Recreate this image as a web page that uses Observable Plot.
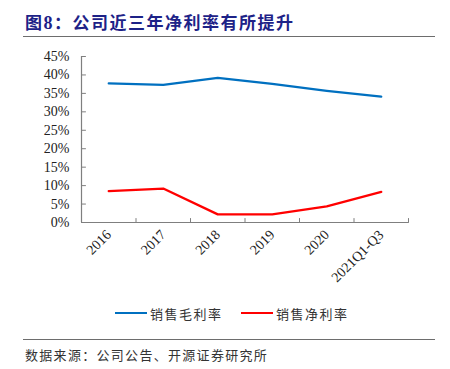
<!DOCTYPE html>
<html><head><meta charset="utf-8">
<script src="https://cdn.jsdelivr.net/npm/d3@7"></script>
<script src="https://cdn.jsdelivr.net/npm/@observablehq/plot@0.6"></script>
<style>
body{margin:0;width:450px;height:369px;background:#fff;position:relative;overflow:hidden;font-family:"Noto Sans CJK SC",sans-serif}
#title{position:absolute;left:25px;top:9px;font-size:17px;font-weight:bold;color:#1d2287;letter-spacing:1.5px;white-space:nowrap}
#title .num{font-family:"Liberation Serif",serif;font-size:18px}
.hr{position:absolute;left:23px;width:412px;height:0;border-top:1.5px solid #6d6d6d}
#chart{position:absolute;left:0;top:40px}
#legend{position:absolute;top:304px;left:0;width:450px;font-size:13px;color:#333;letter-spacing:1.5px}
.item{position:absolute;top:0;display:flex;align-items:center;height:18px;white-space:nowrap}
.sw{display:inline-block;width:32px;height:0;border-top:2.5px solid;margin-right:3px}
#source{position:absolute;left:25px;top:345px;font-size:13px;color:#333;letter-spacing:1.3px;white-space:nowrap}
</style></head><body>
<div id="title">图<span class="num">8</span>：公司近三年净利率有所提升</div>
<div class="hr" style="top:36px"></div>
<div id="chart"></div>
<div id="legend"></div>
<div class="hr" style="top:339px"></div>
<div id="source">数据来源：公司公告、开源证券研究所</div>
<script>
const categories = ["2016","2017","2018","2019","2020","2021Q1-Q3"];
const grossMargin = [37.7, 37.3, 39.2, 37.6, 35.7, 34.1];
const netMargin = [8.5, 9.2, 2.2, 2.2, 4.4, 8.3];
const yTicks = [0,5,10,15,20,25,30,35,40,45];
const seriesNames = ["销售毛利率","销售净利率"];
const seriesColors = ["#0070C0","#FF0000"];

const idx = categories.map((c,i)=>i);
const bounds = categories.map((c,i)=>i+0.5);
const rows = [];
categories.forEach((c,i)=>{
  rows.push({i, v: grossMargin[i], s: seriesNames[0]});
});
categories.forEach((c,i)=>{
  rows.push({i, v: netMargin[i], s: seriesNames[1]});
});
const tickShape = {draw(ctx, l){ ctx.moveTo(0,0); ctx.lineTo(0,-l); }};
const axisColor = "#7f7f7f";
const plot = Plot.plot({
  width: 450, height: 250,
  marginLeft: 81, marginRight: 42, marginTop: 16, marginBottom: 68,
  style: {fontFamily: "'Liberation Serif', serif", fontSize: "14px", color: "#222", background: "transparent"},
  x: {type: "linear", domain: [-0.5, categories.length - 0.5]},
  y: {domain: [0, 45]},
  color: {domain: seriesNames, range: seriesColors},
  marks: [
    Plot.axisY(yTicks, {tickSize: 0, tickPadding: 12, tickFormat: d => d + "%", fontSize: 14, label: null}),
    Plot.axisX(idx, {tickSize: 0, tickPadding: 10, tickRotate: -45, tickFormat: i => categories[i], fontSize: 14, label: null}),
    Plot.vector(yTicks, {y: d => d, frameAnchor: "left", length: 4, rotate: 90, anchor: "start", shape: tickShape, stroke: axisColor, strokeWidth: 1}),
    Plot.vector(bounds, {x: d => d, frameAnchor: "bottom", length: 4, rotate: 0, anchor: "start", shape: tickShape, stroke: axisColor, strokeWidth: 1}),
    Plot.ruleX([-0.5], {stroke: axisColor, strokeWidth: 1.2}),
    Plot.ruleY([0], {stroke: axisColor, strokeWidth: 1.2}),
    Plot.line(rows, {x: "i", y: "v", z: "s", stroke: "s", strokeWidth: 2.3})
  ]
});
document.getElementById("chart").appendChild(plot);

const legend = document.getElementById("legend");
const lefts = [115, 241];
seriesNames.forEach((n,k)=>{
  const d = document.createElement("div");
  d.className = "item";
  d.style.left = lefts[k] + "px";
  d.innerHTML = `<span class="sw" style="border-color:${seriesColors[k]}"></span><span>${n}</span>`;
  legend.appendChild(d);
});
</script>
</body></html>
